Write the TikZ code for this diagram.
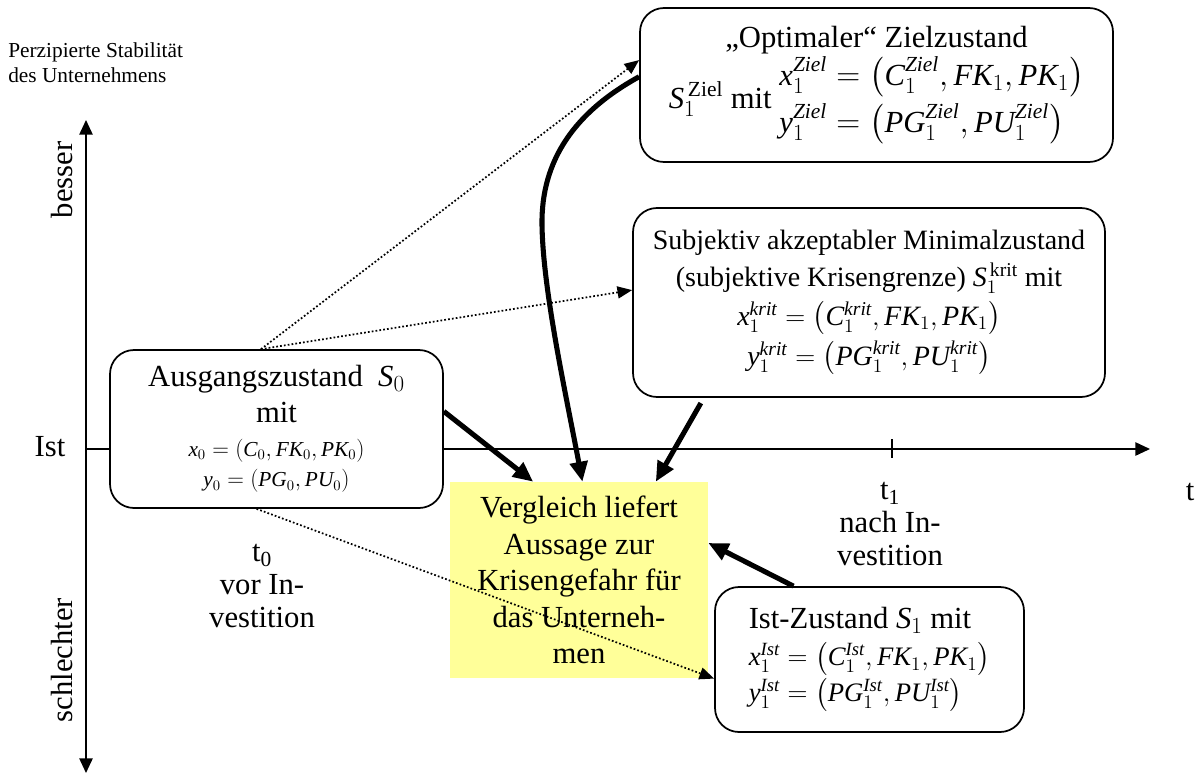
\documentclass[tikz,border=0pt]{standalone}
\usepackage{amsmath}
\usepackage{fontspec}
\setmainfont{Liberation Serif}
\usetikzlibrary{arrows.meta}
\definecolor{paleyellow}{RGB}{255,255,153}
\newcommand\mv[1]{\mathit{#1}}
\begin{document}
\begin{tikzpicture}[x=0.75pt,y=-0.75pt,
  box/.style={draw, line width=1.3pt, rounded corners=18pt, fill=white, inner sep=0pt, align=center},
  axisline/.style={line width=1.2pt},
  fat/.style={line width=3.8pt, -{Triangle[length=15pt,width=13pt]}},
  dots/.style={line width=1.3pt, dash pattern=on 1.3pt off 1.6pt, -{Triangle[length=11pt,width=9pt]}},
  big/.style={font=\fontsize{23}{27}\selectfont},
  lbl/.style={inner sep=0pt, align=center}]
\useasboundingbox (0,0) rectangle (1202,774);

% axes
\coordinate (ybot) at (86,773);
\coordinate (ytop) at (86,120);
\coordinate (xorg) at (86,449);
\coordinate (xend) at (1150,449);
\draw[axisline, {Triangle[length=11pt,width=10pt]}-{Triangle[length=11pt,width=10pt]}] (ybot) -- (ytop);
\draw[axisline, -{Triangle[length=11pt,width=10pt]}] (xorg) -- (xend);
\draw[axisline] (892,439) -- (892,458);

% axis labels
\node[lbl, anchor=west, font=\fontsize{16}{19}\selectfont, align=left] (ylabel) at (8,63)
  {Perzipierte Stabilität\\des Unternehmens};
\node[lbl, big, rotate=90] (besser) at (62,180) {besser};
\node[lbl, big, rotate=90] (schlechter) at (62,660) {schlechter};
\node[lbl, big] (ist) at (50,447) {Ist};
\node[lbl, big] (tlab) at (1190,492) {t};
\node[lbl, big, font=\fontsize{23}{25}\selectfont] (tnull) at (262,586) {t\textsubscript{0}\\vor In-\\vestition};
\node[lbl, big, font=\fontsize{23}{25}\selectfont] (teins) at (890,524) {t\textsubscript{1}\\nach In-\\vestition};

% states
\node[box, big, minimum width=354.75pt, minimum height=115.5pt] (opt) at (876.5,85)
  {„Optimaler“ Zielzustand\\[1pt]
   $\mv{S}_1^{\,\mathrm{Ziel}}$ mit
   $\begin{aligned}
     \mv{x}_1^{\mv{Ziel}} &= \left(\mv{C}_1^{\mv{Ziel}}, \mv{FK}_1, \mv{PK}_1\right)\\[1pt]
     \mv{y}_1^{\mv{Ziel}} &= \left(\mv{PG}_1^{\mv{Ziel}}, \mv{PU}_1^{\mv{Ziel}}\right)
   \end{aligned}$};

\node[box, font=\fontsize{21}{28}\selectfont, minimum width=354pt, minimum height=141.75pt] (subj) at (869,302.5)
  {Subjektiv akzeptabler Minimalzustand\\
   (subjektive Krisengrenze) $\mv{S}_1^{\,\mathrm{krit}}$ mit\\[1pt]
   $\mv{x}_1^{\mv{krit}} = \left(\mv{C}_1^{\mv{krit}}, \mv{FK}_1, \mv{PK}_1\right)$\\[2pt]
   $\mv{y}_1^{\mv{krit}} = \left(\mv{PG}_1^{\mv{krit}}, \mv{PU}_1^{\mv{krit}}\right)$};

\node[box, big, minimum width=249.75pt, minimum height=118.5pt] (ausg) at (276.5,429)
  {Ausgangszustand\ \ $\mv{S}_0$\\
   mit\\[-2pt]
   {\fontsize{16}{20}\selectfont $\mv{x}_0 = \left(\mv{C}_0, \mv{FK}_0, \mv{PK}_0\right)$}\\[-4pt]
   {\fontsize{16}{20}\selectfont $\mv{y}_0 = \left(\mv{PG}_0, \mv{PU}_0\right)$}};

\node[box, big, align=left, minimum width=231.75pt, minimum height=108.75pt] (istz) at (869.5,659.5)
  {Ist-Zustand $\mv{S}_1$ mit\\[1pt]
   {\fontsize{20}{24}\selectfont $\mv{x}_1^{\mv{Ist}} = \left(\mv{C}_1^{\mv{Ist}}, \mv{FK}_1, \mv{PK}_1\right)$}\\[0pt]
   {\fontsize{20}{24}\selectfont $\mv{y}_1^{\mv{Ist}} = \left(\mv{PG}_1^{\mv{Ist}}, \mv{PU}_1^{\mv{Ist}}\right)$}};

\node[fill=paleyellow, inner sep=0pt, align=center, font=\fontsize{23}{27.4}\selectfont,
      minimum width=193.5pt, minimum height=147pt] (yel) at (579,580)
  {Vergleich liefert\\Aussage zur\\Krisengefahr für\\das Unterneh-\\men};

% projections from the initial state
\draw[dots] (ausg.101.8) -- (opt.174);
\draw[dots] (ausg.101.8) -- (subj.177.7);
\draw[dots] (ausg.256.8) -- (istz.187.6);

% comparison arrows
\draw[fat] (ausg.6.5) -- (yel.115.1);
\draw[fat] (opt.178.1) .. controls (575,112) and (541,160) .. (542,225)
           .. controls (543,290) and (565,390) .. (yel.88.2);
\draw[fat, shorten <=4.5pt] (subj.210.4) -- (yel.52.2);
\draw[fat] (istz.136.9) -- (yel.16);
\end{tikzpicture}
\end{document}
